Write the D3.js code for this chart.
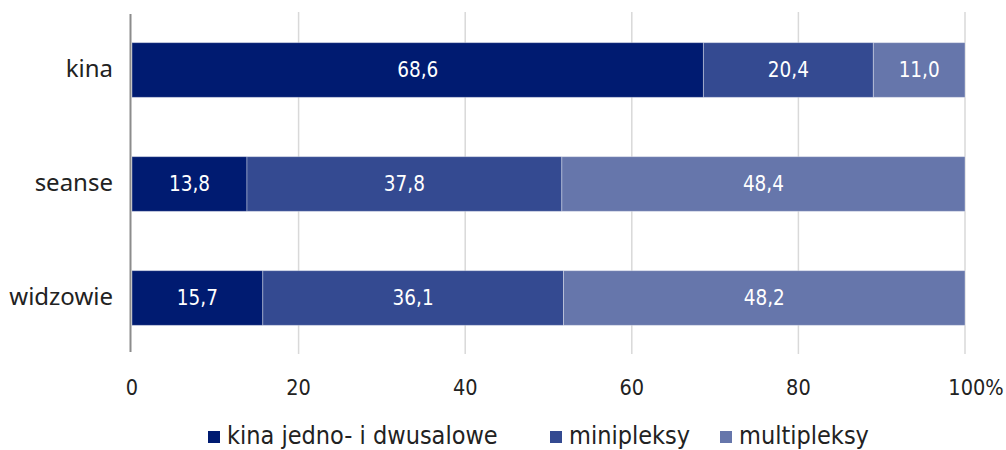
<!DOCTYPE html>
<html>
<head>
<meta charset="utf-8">
<script src="https://cdn.jsdelivr.net/npm/d3@7"></script>
<style>
  body { margin: 0; background: #fff; }
  svg { display: block; font-family: "DejaVu Sans Condensed", "Noto Sans", sans-serif; }
</style>
</head>
<body>
<svg width="1006" height="450"></svg>
<script>
const categories = ["kina", "seanse", "widzowie"]
const seriesNames = ["kina jedno- i dwusalowe", "minipleksy", "multipleksy"]
const jednoDwu = [68.6, 13.8, 15.7]
const minipleksy = [20.4, 37.8, 36.1]
const multipleksy = [11.0, 48.4, 48.2]
const ticks = [0, 20, 40, 60, 80, 100]
const colors = ["#001b71", "#344a91", "#6676ab"]

const x = d3.scaleLinear().domain([0, 100]).range([132, 965]);
const y = d3.scaleBand().domain(categories).range([13, 355]).paddingInner(0.52).paddingOuter(0.26);

const svg = d3.select("svg");

// grid
svg.append("g")
    .selectAll("line")
    .data(ticks.slice(1))
    .join("line")
    .attr("x1", d => x(d)).attr("x2", d => x(d))
    .attr("y1", 12).attr("y2", 354)
    .attr("stroke", "#d9d9d9")
    .attr("stroke-width", 1.5);

const rows = categories.map((c, i) => {
    const vals = [jednoDwu[i], minipleksy[i], multipleksy[i]];
    let acc = 0;
    return vals.map((v, k) => {
        const seg = { cat: c, k: k, v: v, x0: acc, x1: acc + v };
        acc += v;
        return seg;
    });
}).flat();

svg.append("g")
    .selectAll("rect")
    .data(rows)
    .join("rect")
    .attr("x", d => x(d.x0))
    .attr("y", d => y(d.cat))
    .attr("width", d => x(d.x1) - x(d.x0))
    .attr("height", y.bandwidth())
    .attr("fill", d => colors[d.k])
    .attr("stroke", "rgba(255,255,255,0.35)")
    .attr("stroke-width", 1);

svg.append("g")
    .selectAll("text")
    .data(rows)
    .join("text")
    .attr("x", d => (x(d.x0) + x(d.x1)) / 2)
    .attr("y", d => y(d.cat) + y.bandwidth() / 2)
    .attr("dy", "0.36em")
    .attr("text-anchor", "middle")
    .attr("fill", "#fff")
    .style("font-size", "20.5px")
    .text(d => d.v.toFixed(1).replace(".", ","));

// left axis line
svg.append("line")
    .attr("x1", 130.5).attr("x2", 130.5)
    .attr("y1", 14).attr("y2", 352)
    .attr("stroke", "#8c8c8c")
    .attr("stroke-width", 2);

// category labels
svg.append("g")
    .selectAll("text")
    .data(categories)
    .join("text")
    .attr("x", 113)
    .attr("y", d => y(d) + y.bandwidth() / 2)
    .attr("dy", "0.3em")
    .attr("text-anchor", "end")
    .attr("fill", "#222")
    .style("font-family", "'Noto Sans', sans-serif")
    .style("font-size", "24px")
    .text(d => d);

// tick labels
svg.append("g")
    .selectAll("text")
    .data(ticks)
    .join("text")
    .attr("x", d => d === 100 ? x(d) + 11 : x(d))
    .attr("y", 395)
    .attr("text-anchor", "middle")
    .attr("fill", "#222")
    .style("font-size", "21.5px")
    .text(d => d === 100 ? "100%" : d);

// legend
const legendX = [208, 550, 720];
const lg = svg.append("g")
    .selectAll("g")
    .data(seriesNames)
    .join("g")
    .attr("transform", (d, i) => "translate(" + legendX[i] + ",437)");
lg.append("rect")
    .attr("x", 0).attr("y", -6)
    .attr("width", 12).attr("height", 12)
    .attr("fill", (d, i) => colors[i]);
lg.append("text")
    .attr("x", 19)
    .attr("y", 7)
    .attr("fill", "#222")
    .style("font-size", "25px")
    .text(d => d);
</script>
</body>
</html>
